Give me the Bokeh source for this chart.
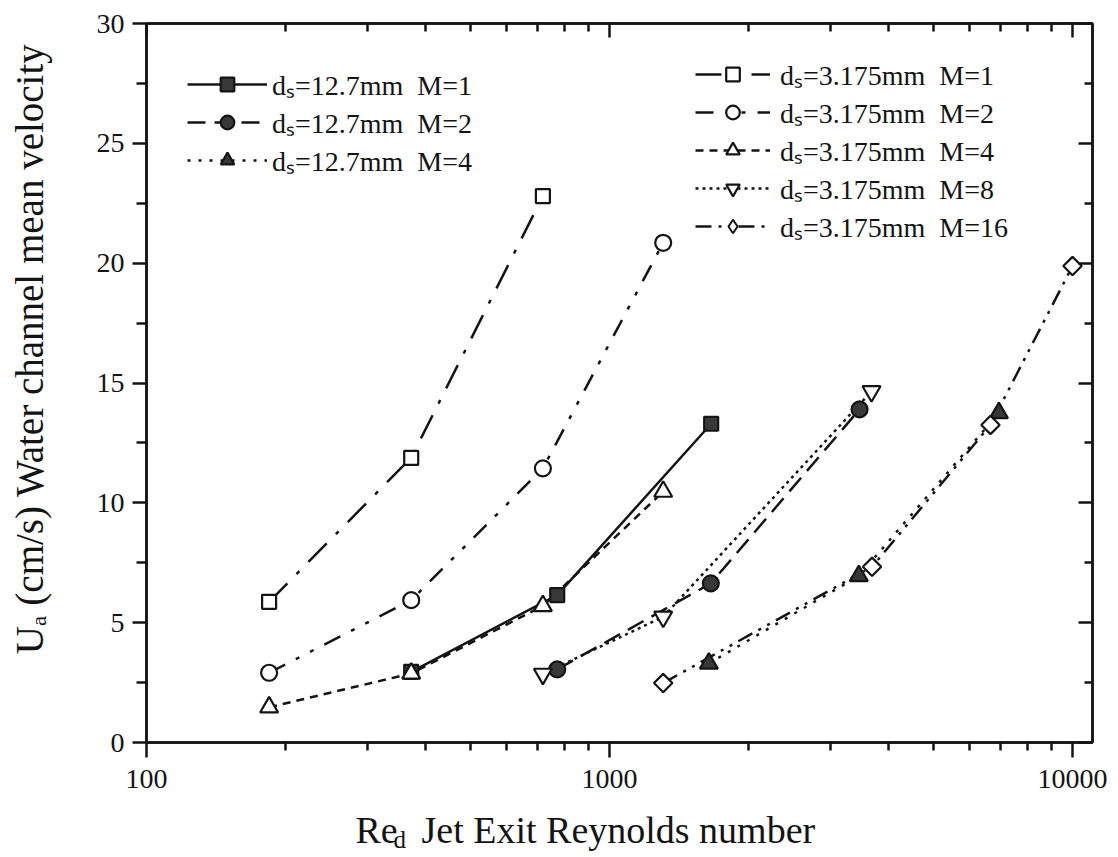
import math
from bokeh.plotting import figure
from bokeh.layouts import column
from bokeh.models import (Range1d, FixedTicker, LogAxis, LinearAxis, Legend, LegendItem,
                          Label, BasicTickFormatter)
from bokeh.embed import file_html
from bokeh.resources import INLINE

# ---------------- data ----------------
re_127_m1 = [373, 771, 1658]
u_127_m1 = [2.95, 6.15, 13.3]
re_127_m2 = [771, 1655, 3468]
u_127_m2 = [3.05, 6.64, 13.9]
re_127_m4 = [1639, 3455, 6934]
u_127_m4 = [3.3, 6.95, 13.75]

re_3175_m1 = [184, 373, 718]
u_3175_m1 = [5.87, 11.88, 22.8]
re_3175_m2 = [184, 373, 718, 1306]
u_3175_m2 = [2.91, 5.94, 11.44, 20.85]
re_3175_m4 = [184, 373, 718, 1306]
u_3175_m4 = [1.47, 2.88, 5.7, 10.47]
re_3175_m8 = [718, 1306, 3680]
u_3175_m8 = [2.86, 5.24, 14.65]
re_3175_m16 = [1306, 3690, 6650, 10000]
u_3175_m16 = [2.48, 7.33, 13.25, 19.88]

x_major_ticks = [100, 1000, 10000]
x_minor_ticks = [200, 300, 400, 500, 600, 700, 800, 900,
                 2000, 3000, 4000, 5000, 6000, 7000, 8000, 9000]
y_major_ticks = [0, 5, 10, 15, 20, 25, 30]
y_minor_ticks = [2.5, 7.5, 12.5, 17.5, 22.5, 27.5]

labels_127 = ["d\u209b=12.7mm  M=1", "d\u209b=12.7mm  M=2", "d\u209b=12.7mm  M=4"]
labels_3175 = ["d\u209b=3.175mm  M=1", "d\u209b=3.175mm  M=2", "d\u209b=3.175mm  M=4",
               "d\u209b=3.175mm  M=8", "d\u209b=3.175mm  M=16"]
y_title = "\u00a0" * 8 + "U\u2090 (cm/s)  Water channel mean velocity"
x_title_main, x_title_sub, x_title_rest = "Re", "d", "Jet Exit Reynolds number"

FONT = "Liberation Serif"
INK = "#141414"
FILL = "#383838"

W, H = 1118, 857
H_MAIN = 802
H_TITLE = H - H_MAIN   # strip below the chart that holds the x title
FRAME_LEFT = 146

p = figure(width=W, height=H_MAIN, x_axis_type="log",
           x_range=Range1d(100, 11045), y_range=Range1d(0, 30),
           output_backend="svg", toolbar_location=None,
           min_border_left=FRAME_LEFT, min_border_right=26, min_border_top=23,
           min_border_bottom=H_MAIN - 742)
p.background_fill_color = "white"
p.border_fill_color = "white"
p.grid.visible = False
p.outline_line_color = INK
p.outline_line_width = 2.5

# ---- axes ----
def style_axis(ax, inward=False):
    ax.axis_line_color = INK
    ax.axis_line_width = 2.5
    ax.major_tick_line_color = INK
    ax.major_tick_line_width = 2.5
    ax.minor_tick_line_color = INK
    ax.minor_tick_line_width = 2.5
    ax.major_label_text_font = FONT
    ax.major_label_text_font_size = "28px"
    ax.major_label_text_color = INK
    if inward:
        ax.major_tick_in = 14
        ax.major_tick_out = 0
        ax.minor_tick_in = 8
        ax.minor_tick_out = 0
        ax.major_label_text_font_size = "2px"
        ax.major_label_text_alpha = 0
        ax.major_label_standoff = 0
    else:
        ax.major_tick_in = 0
        ax.minor_tick_in = 0

xt = FixedTicker(ticks=x_major_ticks, minor_ticks=x_minor_ticks)
yt = FixedTicker(ticks=y_major_ticks, minor_ticks=y_minor_ticks)

xa = p.xaxis[0]
xa.ticker = xt
xa.formatter = BasicTickFormatter(use_scientific=False)
style_axis(xa)
xa.major_tick_out = 15
xa.minor_tick_out = 8
xa.major_label_standoff = 12

ya = p.yaxis[0]
ya.ticker = yt
style_axis(ya)
ya.major_tick_out = 14
ya.minor_tick_out = 10
ya.major_label_standoff = 8
ya.axis_label = y_title
ya.axis_label_text_font = FONT
ya.axis_label_text_font_size = "39px"
ya.axis_label_text_font_style = "normal"
ya.axis_label_text_color = INK
ya.axis_label_standoff = 43

top = LogAxis(ticker=FixedTicker(ticks=x_major_ticks, minor_ticks=x_minor_ticks))
style_axis(top, inward=True)
p.add_layout(top, "above")
right = LinearAxis(ticker=FixedTicker(ticks=y_major_ticks, minor_ticks=y_minor_ticks))
style_axis(right, inward=True)
p.add_layout(right, "right")

# ---- series ----
LW = 2.5
series = [
    # (x, y, dash, marker, size, filled, angle)
    (re_127_m1, u_127_m1, "solid", "square", 14, True, 0.0),
    (re_127_m2, u_127_m2, "18 9", "circle", 16, True, 0.0),
    (re_127_m4, u_127_m4, "3 8", "triangle", 18, True, 0.0),
    (re_3175_m1, u_3175_m1, "26 13 4 13", "square", 14, False, 0.0),
    (re_3175_m2, u_3175_m2, "18 12 4 12 4 12", "circle", 16, False, 0.0),
    (re_3175_m4, u_3175_m4, "8 6", "triangle", 18, False, 0.0),
    (re_3175_m8, u_3175_m8, "3 4", "inverted_triangle", 18, False, 0.0),
    (re_3175_m16, u_3175_m16, "16 7 3 7 3 7", "square", 13, False, math.pi / 4),
]

line_rs = []
for xs, ys, dash, mk, sz, filled, ang in series:
    line_rs.append(p.line(xs, ys, line_color=INK, line_width=LW, line_dash=dash))

marker_rs = [None] * len(series)
order = [i for i, s in enumerate(series) if s[5]] + [i for i, s in enumerate(series) if not s[5]]
for i in order:
    xs, ys, dash, mk, sz, filled, ang = series[i]
    marker_rs[i] = p.scatter(xs, ys, marker=mk, size=sz, angle=ang,
                             line_color=INK, line_width=2.2,
                             fill_color=FILL if filled else "white")

# hidden twin of the M=16 series, used only for its legend key (diamond shape)
diamond_key = p.scatter(re_3175_m16, u_3175_m16, marker="diamond", size=18,
                        line_color=INK, line_width=2.0, fill_color="white", visible=False)

# ---- legends ----
def make_legend(idx, labels, loc, gw, standoff):
    items = []
    for lab, i in zip(labels, idx):
        mk_r = diamond_key if i == 7 else marker_rs[i]
        items.append(LegendItem(label=lab, renderers=[line_rs[i], mk_r]))
    lg = Legend(items=items, location=loc, orientation="vertical",
                border_line_color=None, background_fill_alpha=0,
                padding=0, margin=0, spacing=0,
                glyph_width=gw, glyph_height=34, label_height=34,
                label_standoff=standoff, inactive_fill_alpha=0,
                label_text_font=FONT, label_text_font_size="28px",
                label_text_color=INK)
    p.add_layout(lg)

make_legend([0, 1, 2], labels_127, (41, 563), 80, 5)
make_legend([3, 4, 5, 6, 7], labels_3175, (549, 497), 75, 10)

# ---- x title strip (true subscript); its frame is aligned with the chart frame ----
t = figure(width=W, height=H_TITLE, x_range=Range1d(0, 1), y_range=Range1d(0, 1),
           output_backend="svg", toolbar_location=None,
           x_axis_location=None, y_axis_location=None,
           min_border=0, min_border_left=0, min_border_right=0,
           min_border_top=0, min_border_bottom=0)
t.grid.visible = False
t.outline_line_color = None
t.background_fill_color = "white"
t.border_fill_color = "white"

def lab(fig, text, px, py, size):
    fig.add_layout(Label(x=px - FRAME_LEFT, y=H - py, x_units="screen", y_units="screen",
                         text=text, text_font=FONT, text_font_size=size, text_color=INK,
                         text_align="left", text_baseline="alphabetic"))

lab(t, x_title_main, 355, 829, "38px")
lab(t, x_title_sub, 393, 839, "25px")
lab(t, x_title_rest, 421, 829, "38px")

layout = column(p, t, spacing=0)
open("out.html", "w").write(file_html(layout, INLINE))
